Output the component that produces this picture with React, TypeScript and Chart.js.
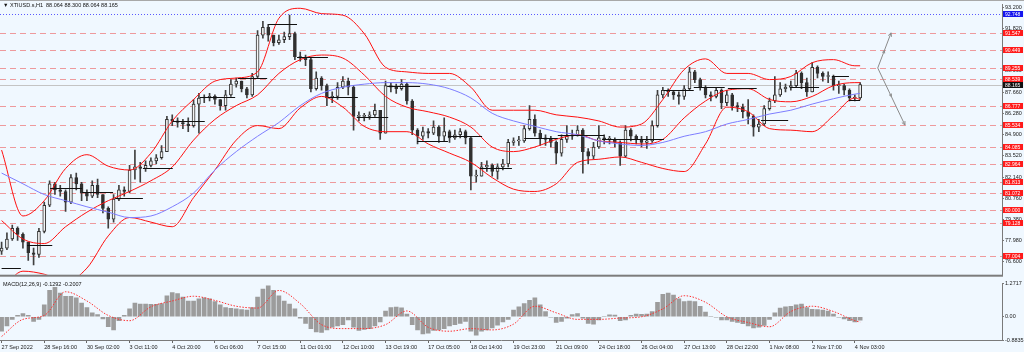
import { useEffect, useRef } from "react";
import { Chart, registerables } from "chart.js";
Chart.register(...registerables);

// ---------- data (4-hour buckets) ----------
const symbolTitle = "\u25BC XTIUSD.s,H1  88.064 88.300 88.064 88.165";
const macdTitle = "MACD(12,26,9) -0.1292 -0.2007";

const timeLabels = [
  "27 Sep 2022", "28 Sep 16:00", "30 Sep 02:00", "3 Oct 11:00", "4 Oct 20:00", "6 Oct 06:00",
  "7 Oct 15:00", "11 Oct 01:00", "12 Oct 10:00", "13 Oct 19:00", "17 Oct 05:00", "18 Oct 14:00",
  "19 Oct 23:00", "21 Oct 09:00", "24 Oct 18:00", "26 Oct 04:00", "27 Oct 13:00", "28 Oct 22:00",
  "1 Nov 08:00", "2 Nov 17:00", "4 Nov 03:00",
];
const labelBars = [0, 8, 16, 24, 32, 40, 48, 56, 64, 72, 80, 88, 96, 104, 112, 120, 128, 136, 144, 152, 160];

const firstOpen = 77.3;
const closes = [
  77.5, 78.1, 78.8, 78.4, 77.9, 77.2, 77.1, 78.6, 80.3, 81.7,
  81.3, 81.2, 80.5, 82.1, 81.7, 81.1, 80.9, 81.6, 81.0, 80.1,
  79.4, 80.7, 81.3, 81.2, 82.6, 82.8, 82.7, 82.9, 83.2, 83.4,
  83.8, 85.9, 85.8, 85.7, 85.6, 85.5, 86.9, 87.3, 87.3, 87.4,
  87.2, 86.8, 87.5, 88.2, 88.4, 87.9, 87.5, 88.7, 91.4, 91.9,
  91.4, 90.9, 91.1, 91.3, 91.5, 90.0, 89.9, 89.8, 87.9, 88.6,
  88.1, 87.3, 87.4, 88.0, 88.4, 88.0, 86.1, 86.1, 86.1, 86.2,
  86.5, 85.0, 88.1, 88.0, 87.9, 88.2, 87.1, 85.2, 84.8, 85.1,
  85.0, 85.4, 84.8, 85.1, 84.7, 84.9, 85.1, 84.7, 82.2, 82.2,
  82.8, 82.9, 82.5, 82.8, 83.0, 84.4, 84.5, 84.5, 85.3, 85.9,
  85.0, 84.7, 84.6, 84.4, 83.7, 84.6, 84.8, 84.9, 85.2, 83.8,
  83.5, 84.1, 84.7, 84.6, 84.6, 84.4, 83.5, 85.2, 84.8, 84.6,
  84.4, 84.5, 85.5, 87.5, 87.8, 87.7, 87.5, 87.4, 87.9, 89.0,
  88.5, 88.0, 87.5, 87.4, 87.8, 87.0, 87.5, 86.8, 86.7, 86.4,
  86.1, 85.4, 85.6, 86.6, 87.1, 87.5, 87.9, 88.0, 88.1, 88.9,
  88.3, 87.7, 89.3, 88.9, 88.7, 88.7, 88.1, 88.1, 87.8, 87.3,
  87.3, 88.165,
];
const highs = [
  77.9, 78.5, 79.0, 78.9, 78.5, 77.9, 77.5, 78.8, 80.5, 81.9,
  81.8, 81.6, 81.3, 82.3, 82.4, 81.8, 81.3, 81.9, 82.0, 81.0,
  80.2, 81.0, 81.6, 81.5, 82.9, 83.9, 83.1, 83.2, 83.4, 83.6,
  84.2, 86.1, 86.2, 86.0, 85.9, 86.0, 87.2, 87.6, 87.5, 87.6,
  87.5, 87.2, 87.8, 88.5, 88.6, 88.4, 88.0, 88.9, 91.7, 92.3,
  92.1, 91.4, 91.4, 91.6, 92.7, 91.6, 90.3, 90.1, 89.9, 89.0,
  88.7, 88.2, 87.7, 88.3, 88.7, 88.6, 88.1, 86.4, 86.3, 86.4,
  86.9, 86.5, 88.4, 88.3, 88.2, 88.5, 88.3, 87.2, 85.3, 85.4,
  85.3, 85.8, 85.5, 86.0, 85.2, 85.2, 85.3, 85.2, 84.8, 82.6,
  83.1, 83.2, 83.0, 83.0, 83.3, 84.6, 84.7, 84.8, 85.5, 86.8,
  86.2, 85.2, 84.9, 84.8, 84.5, 84.9, 85.5, 85.2, 85.5, 85.3,
  84.0, 84.4, 85.5, 84.9, 84.8, 84.7, 84.5, 85.5, 85.3, 84.9,
  84.8, 84.8, 85.8, 87.8, 88.0, 87.9, 87.8, 87.7, 88.1, 89.3,
  89.1, 88.6, 88.1, 87.7, 88.0, 87.9, 87.8, 87.6, 87.0, 86.9,
  87.2, 86.2, 85.9, 86.8, 87.3, 88.7, 88.3, 88.2, 88.4, 89.1,
  89.0, 88.6, 89.6, 89.4, 89.0, 89.0, 88.8, 88.4, 88.2, 87.9,
  87.5, 88.3,
];
const lows = [
  77.1, 77.4, 78.0, 78.0, 77.5, 76.7, 76.4, 76.9, 78.5, 80.2,
  81.0, 80.9, 79.9, 80.4, 81.3, 80.6, 80.6, 80.8, 80.8, 79.8,
  78.8, 79.2, 80.6, 80.9, 81.1, 82.0, 81.8, 82.5, 82.8, 83.0,
  83.3, 83.8, 85.5, 85.4, 85.3, 85.1, 85.4, 85.0, 87.0, 87.1,
  86.9, 86.5, 86.5, 87.4, 88.0, 87.7, 87.3, 87.4, 88.6, 91.2,
  91.0, 90.7, 90.8, 90.9, 91.1, 89.8, 89.7, 89.4, 87.7, 87.8,
  87.8, 86.8, 87.0, 87.2, 87.9, 87.5, 85.2, 85.8, 85.8, 85.9,
  86.1, 84.6, 85.0, 87.7, 87.6, 87.8, 86.9, 84.9, 84.3, 84.6,
  84.7, 84.9, 84.4, 84.5, 84.4, 84.6, 84.7, 84.3, 81.3, 81.8,
  82.3, 82.5, 82.2, 82.0, 82.6, 82.8, 84.2, 84.2, 84.4, 85.2,
  84.8, 84.2, 84.2, 84.1, 83.0, 83.5, 84.4, 84.6, 84.8, 82.4,
  83.0, 83.3, 84.0, 84.3, 84.3, 84.1, 82.9, 83.4, 84.5, 84.3,
  84.1, 84.0, 84.4, 85.4, 87.3, 87.4, 87.2, 86.9, 87.2, 87.8,
  88.3, 87.8, 87.3, 87.1, 87.3, 86.6, 86.8, 86.5, 86.4, 86.0,
  85.6, 84.8, 85.1, 85.5, 86.5, 87.0, 87.4, 87.7, 87.8, 88.0,
  87.9, 87.4, 87.7, 88.6, 88.4, 88.3, 87.8, 87.6, 87.5, 87.1,
  87.1, 87.2,
];

const bandBars = [
  0, 4, 8, 12, 16, 20, 24, 28, 32, 36, 40, 44, 48, 52, 56, 60, 64, 68, 72, 76, 80,
  84, 88, 92, 96, 100, 104, 108, 112, 116, 120, 124, 128, 132, 136, 140, 144, 148, 152, 156, 160, 161,
];
const upperBand = [
  83.9, 79.6, 80.6, 82.7, 83.6, 82.85, 82.6, 83.7, 85.8, 87.2, 88.4,
  88.6, 89.0, 92.5, 93.15, 92.8, 92.7, 91.5, 89.3, 89.0, 88.9,
  88.9, 88.0, 86.5, 86.5, 86.5, 86.2, 86.05, 85.8, 85.4, 85.6,
  87.2, 89.15, 89.85, 88.9, 88.9, 88.5, 88.7, 89.6, 89.8, 89.4, 89.4,
];
const middleBand = [
  79.3, 78.1, 77.8, 78.9, 79.85, 80.6, 81.2, 81.9, 82.8, 84.55, 85.9,
  86.8, 87.5, 88.9, 89.8, 90.1, 89.9, 88.8, 87.4, 86.7, 86.4,
  86.05, 85.4, 84.1, 83.8, 84.1, 84.6, 84.9, 84.5, 84.4, 84.3,
  84.6, 86.0, 87.1, 87.8, 87.9, 87.2, 87.05, 87.4, 88.1, 88.3, 88.3,
];
const lowerBand = [
  74.8, 76.0, 75.8, 75.3, 76.2, 78.3, 79.5, 79.2, 78.9, 80.8, 82.6,
  84.55, 85.5, 85.3, 86.65, 87.4, 86.7, 85.45, 85.1, 85.1, 84.3,
  83.7, 83.1, 82.1, 81.35, 81.2, 81.7, 83.1, 83.3, 83.45, 83.1,
  82.7, 82.5, 84.3, 86.7, 86.4, 85.3, 85.2, 85.1, 86.15, 87.3, 87.2,
];
const slowMA = [
  82.4, 81.7, 81.0, 80.6, 80.2, 79.85, 79.5, 79.6, 80.2, 81.1, 82.6,
  83.8, 84.8, 85.7, 86.8, 87.6, 88.0, 88.2, 88.3, 88.3, 88.2,
  87.9, 87.3, 86.3, 85.8, 85.45, 85.1, 84.9, 84.5, 84.3, 84.2,
  84.4, 84.8, 85.1, 85.6, 85.9, 86.25, 86.5, 86.9, 87.25, 87.55, 87.6,
];

const macdMain = [
  -0.55, -0.35, -0.1, 0.05, 0.12, 0.05, -0.18, -0.1, 0.45, 1.0,
  1.12, 0.9, 0.78, 0.78, 0.72, 0.52, 0.35, 0.15, 0.08, -0.08,
  -0.38, -0.5, -0.15, 0.05, 0.3, 0.52, 0.48, 0.48, 0.47, 0.47,
  0.5, 0.8, 0.92, 0.88, 0.75, 0.6, 0.6, 0.68, 0.72, 0.68,
  0.58, 0.45, 0.35, 0.32, 0.3, 0.27, 0.25, 0.35, 0.75, 1.05,
  1.18, 1.0, 0.8, 0.6, 0.48, 0.3, -0.05, -0.25, -0.45, -0.58,
  -0.6, -0.5, -0.4, -0.35, -0.3, -0.12, -0.4, -0.52, -0.48, -0.45,
  -0.35, -0.2, 0.22, 0.35, 0.37, 0.34, 0.1, -0.3, -0.5, -0.65,
  -0.62, -0.52, -0.5, -0.45, -0.35, -0.3, -0.25, -0.18, -0.55, -0.7,
  -0.55, -0.5, -0.42, -0.32, -0.2, -0.1, 0.25, 0.38, 0.5, 0.62,
  0.72, 0.45, 0.2, -0.02, -0.22, -0.18, -0.05, 0.08, 0.12, -0.05,
  -0.25, -0.28, -0.12, 0.02, 0.07, 0.06, -0.15, -0.12, 0.05, 0.1,
  0.09, 0.1, 0.2, 0.55, 0.85, 0.9, 0.82, 0.68, 0.58, 0.6,
  0.58, 0.4, 0.18, 0.02, -0.02, -0.12, -0.12, -0.18, -0.22, -0.26,
  -0.35, -0.42, -0.4, -0.33, -0.1, 0.15, 0.33, 0.38, 0.4, 0.45,
  0.48, 0.35, 0.28, 0.27, 0.25, 0.22, 0.1, -0.02, -0.08, -0.15,
  -0.2, -0.13,
];
const macdSignal = [
  -0.75, -0.1, 0.05, 0.95, 0.6, 0.05, -0.15, 0.38, 0.6, 0.78, 0.62,
  0.4, 0.33, 1.0, 0.5, -0.3, -0.45, -0.45, -0.3, 0.22, -0.4,
  -0.55, -0.45, -0.5, -0.28, 0.4, 0.15, -0.1, -0.1, -0.05, 0.0,
  0.3, 0.8, 0.55, 0.0, -0.22, -0.38, 0.2, 0.4, 0.2, -0.15, -0.2,
];

const levelPrices = [91.547, 90.449, 89.255, 88.539, 86.777, 85.534, 84.085, 82.964, 81.813, 81.072, 80.0, 79.128, 77.004];
const alertPrice = 92.748;
const lastPrice = 88.165;
const priceTicks = [93.2, 91.82, 90.44, 89.06, 87.66, 86.28, 84.9, 83.52, 82.14, 80.76, 79.38, 77.98, 76.6];
const macdTicks = [1.2717, 0, -0.8835];

const segFrom = [0, 4.8, 9.1, 15.1, 21.3, 26.5, 32.1, 37.2, 44.3, 50.0, 55.4, 61.2, 66.6, 72.3, 77.9, 83.7, 89.7, 98.0, 104.3, 112.6, 124.2, 129.8, 136.2, 142.4, 147.8, 155.7, 158.9];
const segTo = [3.6, 9.5, 15.1, 20.9, 26.5, 32.1, 38.1, 43.8, 49.8, 55.4, 61.2, 66.8, 72.5, 78.5, 83.7, 90.1, 95.7, 104.3, 113.0, 124.2, 129.8, 135.6, 141.6, 147.5, 153.3, 158.9, 161.0];
const segPrice = [76.22, 77.71, 81.45, 81.17, 80.8, 82.74, 85.77, 87.33, 88.62, 92.1, 89.97, 87.33, 86.05, 88.08, 84.5, 84.81, 82.74, 84.66, 84.87, 84.6, 87.8, 88.0, 87.97, 85.84, 88.0, 88.72, 87.18];

const arrowFrom = [164.3, 89.255];
const arrowToBars = [166.8, 169.4];
const arrowToPrices = [91.547, 85.534];

// ---------- styling ----------
const FONT = '"Liberation Sans", "DejaVu Sans", sans-serif';
const BG = "#f0f8ff";
const X_MIN = -0.3;
const X_MAX = 187.6;
const AXIS_W = 22;

function hline(ctx: any, x1: number, x2: number, y: number) {
  ctx.beginPath();
  ctx.moveTo(x1, y);
  ctx.lineTo(x2, y);
  ctx.stroke();
}

function arrow(ctx: any, x1: number, y1: number, x2: number, y2: number) {
  ctx.beginPath();
  ctx.moveTo(x1, y1);
  ctx.lineTo(x2, y2);
  ctx.stroke();
  const ang = Math.atan2(y2 - y1, x2 - x1);
  const head = (hx: number, hy: number, len: number) => {
    ctx.beginPath();
    ctx.moveTo(hx, hy);
    ctx.lineTo(hx - len * Math.cos(ang - 0.45), hy - len * Math.sin(ang - 0.45));
    ctx.moveTo(hx, hy);
    ctx.lineTo(hx - len * Math.cos(ang + 0.45), hy - len * Math.sin(ang + 0.45));
    ctx.stroke();
  };
  head(x2, y2, 4);
  head((x1 + x2) / 2, (y1 + y2) / 2, 3);
}

function priceBox(ctx: any, a: any, y: number, text: string, bg: string, w: number) {
  ctx.fillStyle = bg;
  ctx.fillRect(a.right + 1, Math.round(y) - 3, w - a.right - 2, 6);
  ctx.fillStyle = "#ffffff";
  ctx.font = `5px ${FONT}`;
  ctx.textAlign = "left";
  ctx.textBaseline = "middle";
  ctx.fillText(text, a.right + 3, Math.round(y) + 0.5);
}

const mainOverlay = {
  id: "mainOverlay",
  beforeDatasetsDraw(chart: any) {
    const { ctx, chartArea: a, scales } = chart;
    const y = scales.y;
    ctx.save();
    ctx.beginPath();
    ctx.rect(a.left, a.top, a.right - a.left, a.bottom - a.top);
    ctx.clip();
    ctx.lineWidth = 1;
    ctx.strokeStyle = "#c4c4c4";
    hline(ctx, a.left, a.right, Math.round(y.getPixelForValue(lastPrice)) + 0.5);
    ctx.strokeStyle = "rgba(236,92,92,0.6)";
    ctx.setLineDash([6, 4]);
    for (const p of levelPrices) hline(ctx, a.left, a.right, Math.round(y.getPixelForValue(p)) + 0.5);
    ctx.strokeStyle = "#5a5aff";
    ctx.setLineDash([1, 2]);
    hline(ctx, a.left, a.right, Math.round(y.getPixelForValue(alertPrice)) + 0.5);
    ctx.restore();
  },
  afterDatasetsDraw(chart: any) {
    const { ctx, chartArea: a, scales } = chart;
    const x = scales.x;
    const y = scales.y;
    ctx.save();
    ctx.beginPath();
    ctx.rect(a.left, a.top, a.right - a.left, a.bottom - a.top);
    ctx.clip();
    ctx.strokeStyle = "#111111";
    ctx.lineWidth = 1;
    segPrice.forEach((p, i) => {
      hline(ctx, x.getPixelForValue(segFrom[i]), x.getPixelForValue(segTo[i]), Math.round(y.getPixelForValue(p)) + 0.5);
    });
    ctx.strokeStyle = "#8a8a8a";
    const fx = x.getPixelForValue(arrowFrom[0]);
    const fy = y.getPixelForValue(arrowFrom[1]);
    arrowToBars.forEach((b, i) => {
      arrow(ctx, fx, fy, x.getPixelForValue(b), y.getPixelForValue(arrowToPrices[i]));
    });
    // chart-shift marker above the last bar
    const sx = x.getPixelForValue(closes.length - 0.5);
    ctx.fillStyle = "#9a9a9a";
    ctx.beginPath();
    ctx.moveTo(sx - 3, 1);
    ctx.lineTo(sx + 3, 1);
    ctx.lineTo(sx, 4);
    ctx.closePath();
    ctx.fill();
    ctx.restore();
  },
  afterDraw(chart: any) {
    const { ctx, chartArea: a, scales, width } = chart;
    const y = scales.y;
    ctx.save();
    ctx.fillStyle = "#a8a8a8";
    ctx.fillRect(0, 0, width, 1);
    ctx.fillStyle = "#7c7c7c";
    ctx.fillRect(0, a.bottom, a.right + 1, 2);
    ctx.fillStyle = "#111111";
    ctx.font = `5.5px ${FONT}`;
    ctx.textAlign = "left";
    ctx.textBaseline = "middle";
    ctx.fillText(symbolTitle, 3, 5);
    for (const p of levelPrices) priceBox(ctx, a, y.getPixelForValue(p), p.toFixed(3), "#ff1a1a", width);
    priceBox(ctx, a, y.getPixelForValue(alertPrice), alertPrice.toFixed(3), "#1515ee", width);
    priceBox(ctx, a, y.getPixelForValue(lastPrice), lastPrice.toFixed(3), "#111111", width);
    ctx.restore();
  },
};

const macdOverlay = {
  id: "macdOverlay",
  afterDraw(chart: any) {
    const { ctx } = chart;
    ctx.save();
    ctx.fillStyle = "#111111";
    ctx.font = `5.5px ${FONT}`;
    ctx.textAlign = "left";
    ctx.textBaseline = "middle";
    ctx.fillText(macdTitle, 3, 5);
    ctx.restore();
  },
};

function buildMain(canvas: HTMLCanvasElement) {
  const opens = closes.map((c, i) => (i === 0 ? firstOpen : closes[i - 1]));
  const wickData = closes.map((c, i) => ({
    x: i,
    y: [Math.min(lows[i], opens[i], c), Math.max(highs[i], opens[i], c)],
  }));
  const bodyData = closes.map((c, i) => ({ x: i, y: [opens[i], c] }));
  const bodyFill = closes.map((c, i) => (c >= opens[i] ? "#f4f4f4" : "#303030"));
  const band = (vals: number[]) => bandBars.map((b, i) => ({ x: b, y: vals[i] }));
  const lineDs = (label: string, vals: number[], color: string) => ({
    type: "line",
    label,
    data: band(vals),
    borderColor: color,
    borderWidth: 1,
    pointRadius: 0,
    cubicInterpolationMode: "monotone",
    fill: false,
    order: 1,
  });

  return new Chart(canvas, {
    type: "bar",
    data: {
      datasets: [
        {
          label: "wick",
          data: wickData,
          backgroundColor: "#404040",
          barThickness: 1,
          grouped: false,
          order: 5,
        },
        {
          label: "body",
          data: bodyData,
          backgroundColor: bodyFill,
          borderColor: "#303030",
          borderWidth: 1,
          borderSkipped: false,
          barThickness: 3,
          minBarLength: 1,
          grouped: false,
          order: 4,
        },
        lineDs("MA", slowMA, "#7d7dff"),
        lineDs("BB upper", upperBand, "#ff1010"),
        lineDs("BB middle", middleBand, "#ff1010"),
        lineDs("BB lower", lowerBand, "#ff1010"),
      ] as any,
    },
    options: {
      animation: false,
      responsive: false,
      devicePixelRatio: 1,
      layout: { padding: { top: 1, bottom: 2, left: 0, right: 0 } },
      plugins: { legend: { display: false }, tooltip: { enabled: false } },
      scales: {
        x: {
          type: "linear",
          min: X_MIN,
          max: X_MAX,
          offset: false,
          display: false,
          grid: { offset: false },
        },
        y: {
          type: "linear",
          position: "right",
          min: 75.77,
          max: 93.41,
          afterFit: (s: any) => {
            s.width = AXIS_W;
          },
          afterBuildTicks: (s: any) => {
            s.ticks = priceTicks.map((v) => ({ value: v }));
          },
          ticks: {
            autoSkip: false,
            padding: 1,
            color: "#1a1a1a",
            font: { size: 5.5, family: FONT },
            callback: (v: any) => Number(v).toFixed(3),
          },
          grid: { drawOnChartArea: false, tickLength: 2, color: "#777777" },
          border: { display: true, color: "#7a7a7a" },
        },
      },
    } as any,
    plugins: [mainOverlay],
  });
}

function buildMacd(canvas: HTMLCanvasElement) {
  return new Chart(canvas, {
    type: "bar",
    data: {
      datasets: [
        {
          label: "MACD",
          data: macdMain.map((v, i) => ({ x: i, y: v })),
          backgroundColor: "#9c9c9c",
          barThickness: 4,
          grouped: false,
          order: 2,
        },
        {
          type: "line",
          label: "Signal",
          data: bandBars.map((b, i) => ({ x: b, y: macdSignal[i] })),
          borderColor: "#ff3030",
          borderWidth: 1,
          borderDash: [1.5, 1.5],
          pointRadius: 0,
          cubicInterpolationMode: "monotone",
          fill: false,
          order: 1,
        },
      ] as any,
    },
    options: {
      animation: false,
      responsive: false,
      devicePixelRatio: 1,
      layout: { padding: { top: 2, bottom: 0, left: 0, right: 0 } },
      plugins: { legend: { display: false }, tooltip: { enabled: false } },
      scales: {
        x: {
          type: "linear",
          position: "bottom",
          min: X_MIN,
          max: X_MAX,
          offset: false,
          afterFit: (s: any) => {
            s.height = 12;
          },
          afterBuildTicks: (s: any) => {
            s.ticks = labelBars.map((v) => ({ value: v }));
          },
          ticks: {
            autoSkip: false,
            maxRotation: 0,
            minRotation: 0,
            align: "start",
            padding: 1,
            color: "#1a1a1a",
            font: { size: 5.5, family: FONT },
            callback: (v: any) => {
              const k = labelBars.indexOf(Number(v));
              return k >= 0 ? timeLabels[k] : "";
            },
          },
          grid: { drawOnChartArea: false, tickLength: 3, color: "#666666", offset: false },
          border: { display: true, color: "#7a7a7a" },
        },
        y: {
          type: "linear",
          position: "right",
          min: -0.8835,
          max: 1.2717,
          afterFit: (s: any) => {
            s.width = AXIS_W;
          },
          afterBuildTicks: (s: any) => {
            s.ticks = macdTicks.map((v) => ({ value: v }));
          },
          ticks: {
            autoSkip: false,
            padding: 1,
            color: "#1a1a1a",
            font: { size: 5.5, family: FONT },
            callback: (v: any) => (Number(v) === 0 ? "0.00" : String(v)),
          },
          grid: { drawOnChartArea: false, tickLength: 2, color: "#777777" },
          border: { display: true, color: "#7a7a7a" },
        },
      },
    } as any,
    plugins: [macdOverlay],
  });
}

export default function App() {
  const mainRef = useRef<HTMLCanvasElement>(null);
  const macdRef = useRef<HTMLCanvasElement>(null);

  useEffect(() => {
    const c1 = buildMain(mainRef.current as HTMLCanvasElement);
    const c2 = buildMacd(macdRef.current as HTMLCanvasElement);
    return () => {
      c1.destroy();
      c2.destroy();
    };
  }, []);

  return (
    <div
      style={{
        position: "fixed",
        left: 0,
        top: 0,
        width: 1024,
        height: 352,
        background: BG,
        overflow: "hidden",
      }}
    >
      <canvas ref={mainRef} width={1024} height={279} style={{ display: "block", width: 1024, height: 279 }} />
      <canvas ref={macdRef} width={1024} height={73} style={{ display: "block", width: 1024, height: 73 }} />
    </div>
  );
}
